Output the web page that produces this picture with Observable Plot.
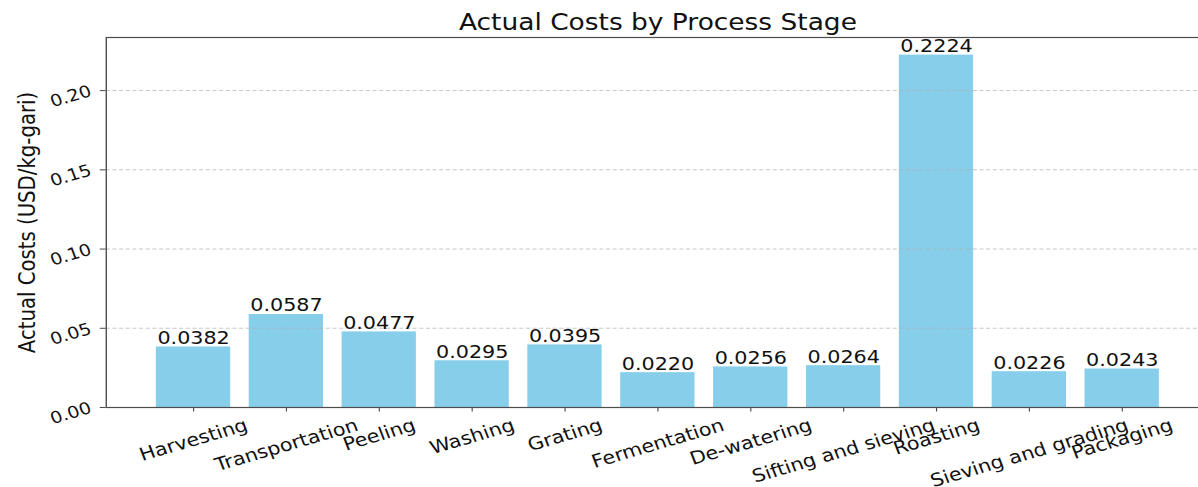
<!DOCTYPE html>
<html>
<head>
<meta charset="utf-8">
<script src="https://cdn.jsdelivr.net/npm/d3@7"></script>
<script src="https://cdn.jsdelivr.net/npm/@observablehq/plot@0.6"></script>
<style>
  html, body { margin: 0; padding: 0; background: #fff; }
  #chart svg { display: block; }
</style>
</head>
<body>
<div id="chart"></div>
<script>
// ---- data ----
const stages = ["Harvesting", "Transportation", "Peeling", "Washing", "Grating", "Fermentation",
  "De-watering", "Sifting and sieving", "Roasting", "Sieving and grading", "Packaging"];
const costs = [0.0382, 0.0587, 0.0477, 0.0295, 0.0395, 0.0220, 0.0256, 0.0264, 0.2224, 0.0226, 0.0243];
const yTicks = [0, 0.05, 0.10, 0.15, 0.20];
const gridTicks = [0.05, 0.10, 0.15, 0.20];
const titleText = "Actual Costs by Process Stage";
const yLabel = "Actual Costs (USD/kg-gari)";

// ---- layout ----
const S = 1.15;              // horizontal stretch of the rendered figure
const W = 1198 / S, H = 487;
const mL = 105.7 / S, mR = W - 1209 / S, mT = 37, mB = 80;
const rot = 18.5;
const xFont = 18, yFont = 16.5;

const data = stages.map((s, i) => ({stage: s, cost: costs[i]}));

const ctx = document.createElement("canvas").getContext("2d");
ctx.font = `${xFont}px 'DejaVu Sans'`;
const rad = rot * Math.PI / 180;
const xLabelMarks = stages.map(s => {
  const w = ctx.measureText(s).width;
  const bh = w * Math.sin(rad) + xFont * Math.cos(rad);
  const cy = 415.5 + bh / 2;
  return Plot.text([s], {x: d => d, text: d => d, frameAnchor: "bottom", dy: cy - (H - mB),
    rotate: -rot, textAnchor: "middle", lineAnchor: "middle", fontSize: xFont, fill: "#111"});
});

const svg = Plot.plot({
  width: W, height: H,
  marginLeft: mL, marginRight: mR, marginTop: mT, marginBottom: mB,
  style: {fontFamily: "'DejaVu Sans', sans-serif", background: "#fff", color: "#111"},
  x: {type: "band", domain: stages, paddingInner: 0.2, paddingOuter: 0.54, round: false},
  y: {domain: [0, d3.max(costs) * 1.05]},
  marks: [
    Plot.barY(data, {x: "stage", y: "cost", fill: "#87CEEB"}),
    Plot.ruleY(gridTicks, {stroke: "#b0b0b0", strokeOpacity: 0.7, strokeDasharray: "3.5,2.3", strokeWidth: 1}),
    Plot.frame({stroke: "#4d4d4d", strokeWidth: 1.2}),
    Plot.axisY({ticks: yTicks, tickSize: 5.2, tickFormat: () => "", label: null, stroke: "#4d4d4d"}),
    Plot.axisX({tickSize: 4.5, tickFormat: () => "", label: null, stroke: "#4d4d4d"}),
    Plot.text(yTicks, {y: d => d, text: d => d.toFixed(2), frameAnchor: "left", dx: -13.5,
      textAnchor: "end", lineAnchor: "middle", rotate: -rot, fontSize: yFont, fill: "#111"}),
    ...xLabelMarks,
    Plot.text(data, {x: "stage", y: "cost", text: d => d.cost.toFixed(4), dy: -3,
      lineAnchor: "bottom", fontSize: 18, fill: "#111"}),
    Plot.text([titleText], {text: d => d, frameAnchor: "top", dy: -7.7, lineAnchor: "bottom",
      fontSize: 23, fill: "#111"}),
    Plot.text([yLabel], {text: d => d, frameAnchor: "left", dx: 23.5 - mL, rotate: -90,
      lineAnchor: "middle", textAnchor: "middle", fontSize: 19.7, fill: "#111"})
  ]
});
svg.setAttribute("preserveAspectRatio", "none");
svg.style.width = "1198px";
svg.style.height = "487px";
svg.style.maxWidth = "none";
document.getElementById("chart").appendChild(svg);
</script>
</body>
</html>
